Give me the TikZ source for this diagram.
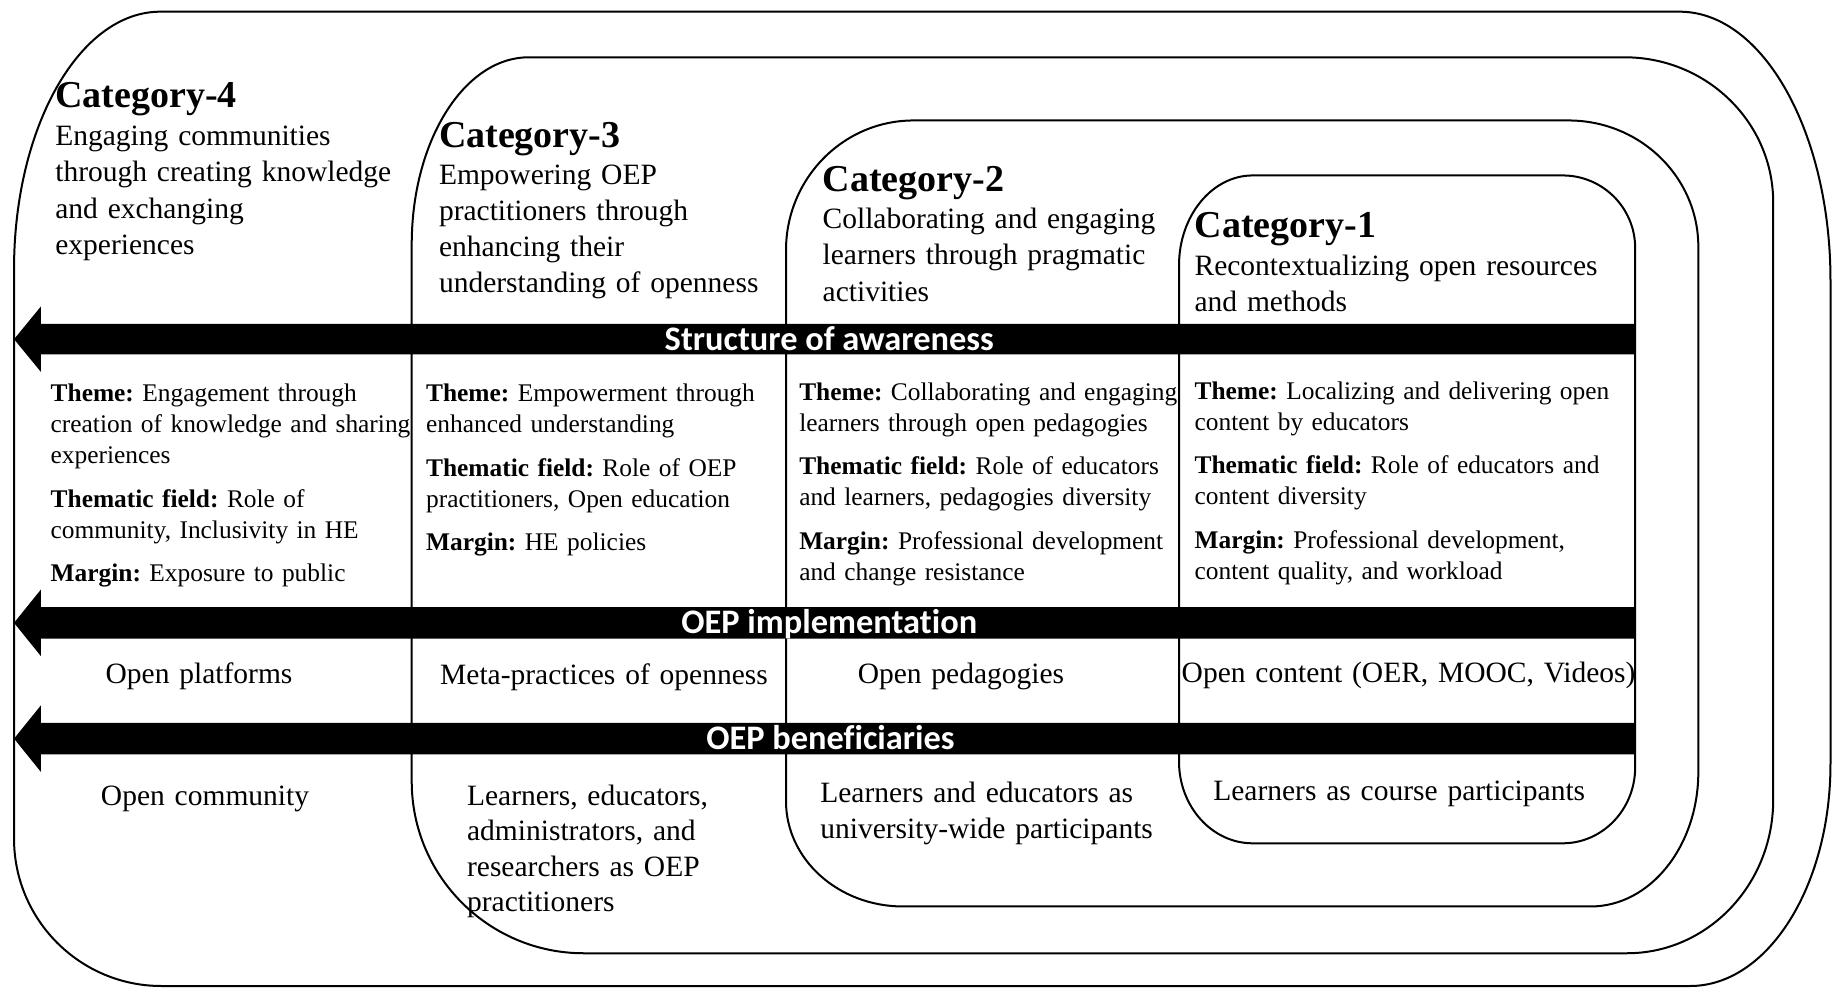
\documentclass[tikz,border=0pt]{standalone}
\usepackage{fontspec}
\setmainfont{Liberation Serif}
\newfontfamily\arrowfont{Carlito}[Ligatures=NoCommon]
\frenchspacing
\def\kk{0.448}
\newcommand\setshape[4]{\def\sL{#1}\def\sT{#2}\def\sR{#3}\def\sB{#4}}
\newcommand\setcorners[8]{\def\cTLx{#1}\def\cTLy{#2}\def\cTRx{#3}\def\cTRy{#4}\def\cBRx{#5}\def\cBRy{#6}\def\cBLx{#7}\def\cBLy{#8}}
\newcommand\drawshape{%
  \draw[catbox] ({\sL},{\sT+\cTLy}) .. controls ({\sL},{\sT+\kk*\cTLy}) and ({\sL+\kk*\cTLx},{\sT}) .. ({\sL+\cTLx},{\sT})
   -- ({\sR-\cTRx},{\sT}) .. controls ({\sR-\kk*\cTRx},{\sT}) and ({\sR},{\sT+\kk*\cTRy}) .. ({\sR},{\sT+\cTRy})
   -- ({\sR},{\sB-\cBRy}) .. controls ({\sR},{\sB-\kk*\cBRy}) and ({\sR-\kk*\cBRx},{\sB}) .. ({\sR-\cBRx},{\sB})
   -- ({\sL+\cBLx},{\sB}) .. controls ({\sL+\kk*\cBLx},{\sB}) and ({\sL},{\sB-\kk*\cBLy}) .. ({\sL},{\sB-\cBLy}) -- cycle;}
\tikzset{
  catbox/.style={draw=black, line width=1pt},
  arrowfill/.style={fill=black},
  cathead/.style={anchor=base west, inner sep=0pt, font=\fontsize{19}{22}\selectfont\bfseries},
  desctext/.style={anchor=base west, inner sep=0pt, text width=260pt, align=left, font=\fontsize{14.75}{18.1}\selectfont},
  infotext/.style={anchor=base west, inner sep=0pt, text width=260pt, align=left, font=\fontsize{12.7}{15.5}\selectfont},
  celltext/.style={anchor=base west, inner sep=0pt, text width=260pt, align=left, font=\fontsize{14.75}{17.7}\selectfont},
  arrowlabel/.style={anchor=base, inner sep=0pt, text=white, font=\fontsize{17.2}{19}\selectfont\arrowfont\bfseries},
}
\begin{document}
\begin{tikzpicture}[x=0.58485pt, y=-0.58485pt]
\useasboundingbox (0,0) rectangle (1568,845.6);
\fill[white] (0,0) rectangle (1568,845.6);
% category shapes
\setshape{12}{10}{1565}{843}\setcorners{125}{220}{129}{230}{120}{190}{126}{126}\drawshape
\setshape{352}{49}{1516}{815}\setcorners{100}{160}{127}{124}{125}{131}{147}{147}\drawshape
\setshape{672}{103}{1452}{775}\setcorners{109}{111}{111}{108}{92}{115}{100}{90}\drawshape
\setshape{1008}{150}{1398}{721}\setcorners{63}{77}{62}{62}{62}{65}{63}{70}\drawshape
% arrows
\fill[arrowfill] (1398,277) -- (35,277) -- (35,262) -- (12,290) -- (35,318) -- (35,303) -- (1398,303) -- cycle;
\fill[arrowfill] (1398,519) -- (35,519) -- (35,504) -- (12,532.5) -- (35,561) -- (35,546) -- (1398,546) -- cycle;
\fill[arrowfill] (1398,618) -- (35,618) -- (35,603) -- (12,631.5) -- (35,660) -- (35,645) -- (1398,645) -- cycle;
\node[arrowlabel] (a1) at (709,300) {Structure of awareness};
\node[arrowlabel] (a2) at (709,542) {OEP implementation};
\node[arrowlabel] (a3) at (710,641) {OEP beneficiaries};
% headings
\node[cathead] (h4) at (47,92) {Category-4};
\node[desctext] (d4) at (47,124.5) {Engaging communities\\through creating knowledge\\and exchanging\\experiences};
\node[cathead] (h3) at (375,126) {Category-3};
\node[desctext] (d3) at (375,157.5) {Empowering OEP\\practitioners through\\enhancing their\\understanding of openness};
\node[cathead] (h2) at (703,164) {Category-2};
\node[desctext] (d2) at (703,195.5) {Collaborating and engaging\\learners through pragmatic\\activities};
\node[cathead] (h1) at (1021,203) {Category-1};
\node[desctext] (d1) at (1021,235.5) {Recontextualizing open resources\\and methods};
% themes
\node[infotext] (t4) at (43,343.5) {\textbf{Theme:} Engagement through\\creation of knowledge and sharing\\experiences\\[6.2pt]\textbf{Thematic field:} Role of\\community, Inclusivity in HE\\[6.2pt]\textbf{Margin:} Exposure to public};
\node[infotext] (t3) at (364,343.5) {\textbf{Theme:} Empowerment through\\enhanced understanding\\[6.2pt]\textbf{Thematic field:} Role of OEP\\practitioners, Open education\\[6.2pt]\textbf{Margin:} HE policies};
\node[infotext] (t2) at (683,342.5) {\textbf{Theme:} Collaborating and engaging\\learners through open pedagogies\\[6.2pt]\textbf{Thematic field:} Role of educators\\and learners, pedagogies diversity\\[6.2pt]\textbf{Margin:} Professional development\\and change resistance};
\node[infotext] (t1) at (1021,341.5) {\textbf{Theme:} Localizing and delivering open\\content by educators\\[6.2pt]\textbf{Thematic field:} Role of educators and\\content diversity\\[6.2pt]\textbf{Margin:} Professional development,\\content quality, and workload};
% implementation
\node[celltext] (p4) at (90,584.5) {Open platforms};
\node[celltext] (p3) at (376,585.5) {Meta-practices of openness};
\node[celltext] (p2) at (733,584.5) {Open pedagogies};
\node[celltext] (p1) at (1010,583.5) {Open content (OER, MOOC, Videos)};
% beneficiaries
\node[celltext] (b4) at (86,688.5) {Open community};
\node[celltext] (b3) at (399,688.5) {Learners, educators,\\administrators, and\\researchers as OEP\\practitioners};
\node[celltext] (b2) at (701,686.5) {Learners and educators as\\university-wide participants};
\node[celltext] (b1) at (1037,684) {Learners as course participants};
\end{tikzpicture}
\end{document}
